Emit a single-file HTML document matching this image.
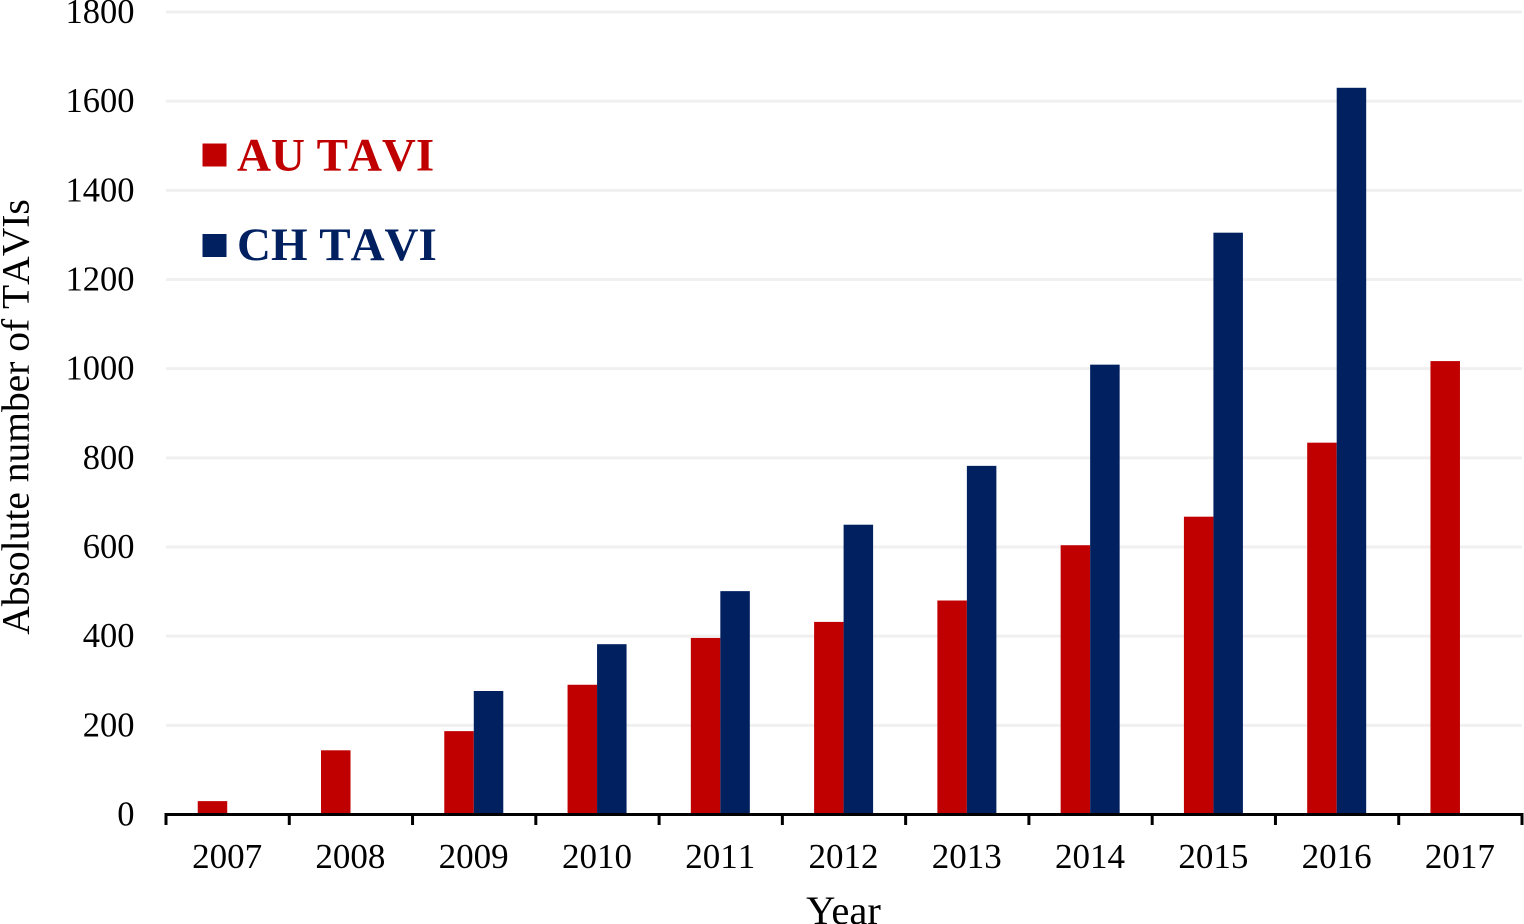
<!DOCTYPE html>
<html lang="en">
<head>
<meta charset="utf-8">
<title>Absolute number of TAVIs per year</title>
<style>
html,body{margin:0;padding:0;background:#fff;width:1524px;height:924px;overflow:hidden}
svg{display:block;font-family:"Liberation Serif","Times New Roman",serif;font-kerning:none}
</style>
</head>
<body>
<svg id="chart" xmlns="http://www.w3.org/2000/svg" width="1524" height="924" viewBox="0 0 1524 924"></svg>
<script>
const categories = ['2007','2008','2009','2010','2011','2012','2013','2014','2015','2016','2017'];
const auValues = [30,144,187,291,396,432,480,604,668,834,1017];
const chValues = [null,null,277,382,501,650,782,1009,1305,1630,null];
const yTicks = [0,200,400,600,800,1000,1200,1400,1600,1800];

const NS = 'http://www.w3.org/2000/svg';
const svg = document.getElementById('chart');
const plotLeft = 166, plotRight = 1522, plotBottom = 814.5, plotTop = 12;
const yMax = 1800;
const barWidth = 29.5;
const barShift = -0.4;
const bandWidth = (plotRight - plotLeft) / categories.length;
const xBand = i => plotLeft + bandWidth * i;
const xCenter = i => xBand(i) + bandWidth / 2;
const yScale = v => plotBottom - (v / yMax) * (plotBottom - plotTop);

function make(tag, attrs, text) {
  const el = document.createElementNS(NS, tag);
  for (const k in attrs) el.setAttribute(k, attrs[k]);
  if (text !== undefined) el.textContent = text;
  svg.appendChild(el);
  return el;
}

yTicks.forEach(t => {
  if (t > 0) {
    const grid = make('line', {x1: plotLeft, x2: plotRight, y1: yScale(t), y2: yScale(t), stroke: '#f0f0f0', 'stroke-width': 3});
    
    
  }
  const label = make('text', {x: 134.5, y: yScale(t) + 11, 'text-anchor': 'end', 'font-size': 34.5, fill: '#000'}, String(t));
  
  
});

categories.forEach((c, i) => {
  const au = auValues[i];
  if (au !== null) {
    const r = make('rect', {x: xCenter(i) - barWidth + barShift, y: yScale(au), width: barWidth, height: plotBottom - yScale(au), fill: '#c00000'});
    
    
  }
  const ch = chValues[i];
  if (ch !== null) {
    const r = make('rect', {x: xCenter(i) + barShift, y: yScale(ch), width: barWidth, height: plotBottom - yScale(ch), fill: '#002060'});
    
    
  }
  const label = make('text', {x: xCenter(i) - 0.5, y: 868, 'text-anchor': 'middle', 'font-size': 35, fill: '#000'}, c);
  
  
});

const axis = make('line', {x1: plotLeft - 1.5, x2: plotRight + 1.5, y1: 814.5, y2: 814.5, stroke: '#000', 'stroke-width': 3});



for (let i = 0; i <= categories.length; i++) {
  const tick = make('line', {x1: xBand(i), x2: xBand(i), y1: 814.5, y2: 825, stroke: '#000', 'stroke-width': 3});
  
  
}

const xTitle = make('text', {x: 843.5, y: 924, 'text-anchor': 'middle', 'font-size': 40.5, fill: '#000', style: 'font-kerning:normal'}, 'Year');



const yTitle = make('text', {x: 0, y: 0, transform: 'translate(28.5 417) rotate(-90)', 'text-anchor': 'middle', 'font-size': 39.5, fill: '#000'}, 'Absolute number of TAVIs');



const auSwatch = make('rect', {x: 202.5, y: 143.5, width: 24, height: 23, fill: '#c00000'});


const auLabel = make('text', {x: 237, y: 170.5, 'font-size': 47, 'font-weight': 'bold', fill: '#c00000'}, 'AU TAVI');


const chSwatch = make('rect', {x: 202.5, y: 234, width: 24, height: 23, fill: '#002060'});


const chLabel = make('text', {x: 237, y: 260, 'font-size': 47, 'font-weight': 'bold', fill: '#002060'}, 'CH TAVI');


</script>
</body>
</html>
